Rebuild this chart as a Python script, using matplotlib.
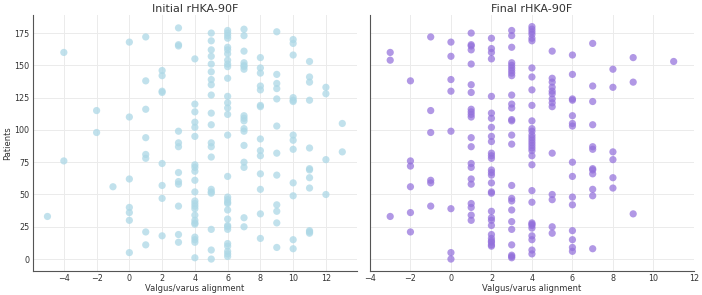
import matplotlib
matplotlib.use("Agg")
import matplotlib.pyplot as plt

# --- Data (alignment value, patient index) ---
# Initial rHKA-90F, grouped by alignment column
init_align = (
    [-5] * 1 + [-4] * 2 + [-2] * 2 + [-1] * 1 + [0] * 7 + [1] * 8 + [2] * 8
    + [3] * 12 + [4] * 23 + [5] * 20 + [6] * 31 + [7] * 17 + [8] * 14
    + [9] * 12 + [10] * 13 + [11] * 12 + [12] * 4 + [13] * 2
)
init_patient = [
    33,
    160, 76,
    115, 98,
    56,
    168, 110, 62, 40, 36, 30, 5,
    172, 138, 116, 94, 81, 78, 21, 11,
    146, 142, 130, 129, 74, 57, 47, 18,
    179, 166, 165, 99, 90, 87, 67, 60, 58, 41, 19, 13,
    155, 120, 114, 106, 102, 95, 73, 71, 68, 61, 52, 45, 43, 41, 39, 34,
    30, 28, 27, 17, 15, 13, 1,
    175, 169, 162, 157, 151, 145, 139, 135, 127, 113, 104, 90, 87, 79, 54,
    52, 51, 23, 7, 0,
    177, 175, 173, 171, 164, 162, 159, 154, 151, 149, 140, 126, 121, 117,
    112, 96, 64, 48, 46, 44, 43, 38, 31, 26, 25, 23, 12, 10, 6, 4, 2,
    178, 173, 161, 152, 150, 149, 147, 111, 109, 107, 101, 99, 88, 75, 71,
    32, 25,
    156, 148, 144, 134, 131, 119, 118, 93, 84, 80, 66, 54, 35, 16,
    176, 143, 136, 132, 124, 103, 82, 65, 42, 37, 28, 9,
    170, 167, 158, 125, 123, 122, 96, 92, 85, 59, 49, 15, 8,
    153, 141, 137, 123, 86, 70, 69, 63, 55, 22, 21, 20,
    133, 128, 77, 50,
    105, 83,
]

# Final rHKA-90F, grouped by alignment column
final_align = (
    [-3] * 3 + [-2] * 6 + [-1] * 6 + [0] * 8 + [1] * 21 + [2] * 29
    + [3] * 26 + [4] * 32 + [5] * 14 + [6] * 15 + [7] * 12 + [8] * 6
    + [9] * 3 + [11] * 1
)
final_patient = [
    160, 154, 33,
    138, 76, 72, 56, 36, 21,
    172, 115, 98, 61, 59, 41,
    168, 157, 139, 130, 99, 39, 5, 0,
    175, 166, 165, 162, 151, 135, 129, 116, 114, 112, 110, 94, 87, 74, 71,
    62, 58, 43, 40, 34, 30,
    171, 163, 160, 155, 126, 113, 109, 102, 95, 91, 82, 80, 78, 69, 67,
    65, 59, 52, 51, 37, 32, 30, 26, 19, 16, 14, 13, 11, 10,
    177, 173, 164, 152, 150, 148, 146, 144, 142, 127, 120, 117, 108, 107,
    96, 89, 57, 47, 45, 38, 29, 23, 11, 3, 2, 1,
    180, 178, 176, 174, 171, 169, 148, 141, 131, 119, 107, 101, 99, 96, 94,
    92, 90, 88, 86, 84, 80, 73, 53, 44, 28, 27, 26, 24, 18, 15, 7, 4,
    161, 140, 137, 133, 130, 128, 124, 121, 118, 82, 50, 46, 25, 20,
    158, 143, 124, 123, 111, 105, 103, 75, 64, 48, 42, 22, 15, 9, 6,
    167, 134, 122, 104, 87, 85, 70, 69, 66, 54, 49, 8,
    147, 133, 83, 77, 63, 55,
    156, 137, 35,
    153,
]

TEXT = "#333333"
SPINE = "#555555"
GRID = "#ebebeb"

fig = plt.figure(figsize=(7.02, 2.95), dpi=100)
ax1 = fig.add_axes([0.0466, 0.0824, 0.462, 0.8668])
ax2 = fig.add_axes([0.527, 0.0824, 0.4615, 0.8668], sharey=ax1)

ax1.scatter(init_align, init_patient, s=27, color="#add8e6", alpha=0.75,
            edgecolors="none")
ax2.scatter(final_align, final_patient, s=27, color="#9370db", alpha=0.72,
            edgecolors="none")

ax1.set_title("Initial rHKA-90F", fontsize=8, color=TEXT, pad=2.5)
ax2.set_title("Final rHKA-90F", fontsize=8, color=TEXT, pad=2.5)
ax1.set_ylabel("Patients", fontsize=6, color=TEXT)
ax1.yaxis.set_label_coords(-0.064, 0.5)
for ax in (ax1, ax2):
    ax.set_xlabel("Valgus/varus alignment", fontsize=6, color=TEXT, labelpad=0.5)
    ax.grid(True, color=GRID, linewidth=0.7)
    ax.set_axisbelow(True)
    ax.spines["top"].set_visible(False)
    ax.spines["right"].set_visible(False)
    ax.spines["left"].set_color(SPINE)
    ax.spines["bottom"].set_color(SPINE)
    ax.tick_params(length=0, labelsize=5.8, colors=TEXT, pad=2.5)

ax1.set_xticks(range(-4, 13, 2))
ax2.set_xlim(-4, 12)
ax2.set_xticks(range(-4, 13, 2))
ax1.set_yticks(range(0, 176, 25))
ax2.tick_params(labelleft=False)

fig.savefig("out.png", dpi=100)
